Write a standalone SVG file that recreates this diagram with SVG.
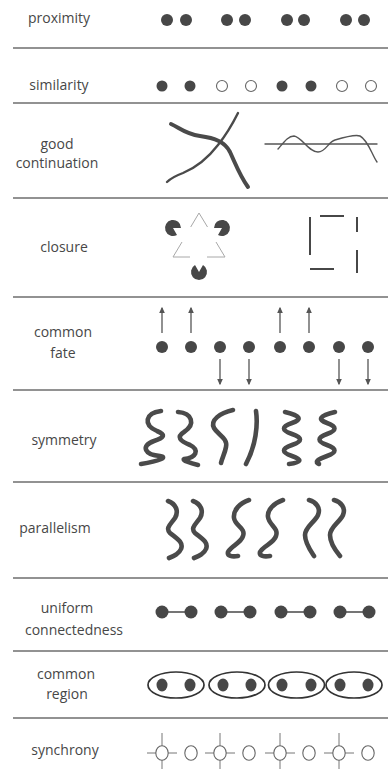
<svg xmlns="http://www.w3.org/2000/svg" width="390" height="769" viewBox="0 0 390 769">
  <style>
    .lbl { font-family: "Open Sans", "Noto Sans", sans-serif; font-size: 14px; fill: #474747; text-anchor: middle; }
    .rule { stroke: #6e6e6e; stroke-width: 1.6; }
    .dot { fill: #474747; }
    .ring { fill: #fff; stroke: #666; stroke-width: 1.1; }
    .brush { fill: none; stroke: #4a4a4a; stroke-width: 4.6; stroke-linecap: round; stroke-linejoin: round; }
    .thin { fill: none; stroke: #555; stroke-width: 1.4; stroke-linecap: round; }
    .arrow { stroke: #555; stroke-width: 1.3; marker-end: url(#head); }
    .ghost { stroke: #a8a8a8; stroke-width: 1; fill: none; }
    .bar { stroke: #474747; stroke-width: 2; }
    .tick { stroke: #777; stroke-width: 1; }
  </style>
  <defs>
    <marker id="head" viewBox="0 0 10 10" refX="8" refY="5" markerWidth="6.5" markerHeight="6.5" markerUnits="userSpaceOnUse" orient="auto">
      <path d="M0,0.5 L10,5 L0,9.5 Z" fill="#555"/>
    </marker>
  </defs>
  <rect width="390" height="769" fill="#fff"/>

  <!-- row separators -->
  <g id="separators">
    <line class="rule" x1="13" y1="48" x2="388" y2="48"/>
    <line class="rule" x1="13" y1="103" x2="388" y2="103"/>
    <line class="rule" x1="13" y1="198" x2="388" y2="198"/>
    <line class="rule" x1="13" y1="297" x2="388" y2="297"/>
    <line class="rule" x1="13" y1="390" x2="388" y2="390"/>
    <line class="rule" x1="13" y1="482" x2="388" y2="482"/>
    <line class="rule" x1="13" y1="578" x2="388" y2="578"/>
    <line class="rule" x1="13" y1="651" x2="388" y2="651"/>
    <line class="rule" x1="13" y1="718" x2="388" y2="718"/>
  </g>

  <g id="proximity">
    <text class="lbl" x="59" y="23">proximity</text>
    <circle class="dot" cx="167" cy="20" r="6"/><circle class="dot" cx="186" cy="20" r="6"/>
    <circle class="dot" cx="227" cy="20" r="6"/><circle class="dot" cx="245" cy="20" r="6"/>
    <circle class="dot" cx="287" cy="20" r="6"/><circle class="dot" cx="304" cy="20" r="6"/>
    <circle class="dot" cx="346" cy="20" r="6"/><circle class="dot" cx="364" cy="20" r="6"/>
  </g>

  <g id="similarity">
    <text class="lbl" x="59" y="90">similarity</text>
    <circle class="dot" cx="162" cy="86" r="5.5"/><circle class="dot" cx="190" cy="86" r="5.5"/>
    <circle class="ring" cx="222" cy="86" r="5.5"/><circle class="ring" cx="251" cy="86" r="5.5"/>
    <circle class="dot" cx="282" cy="86" r="5.5"/><circle class="dot" cx="311" cy="86" r="5.5"/>
    <circle class="ring" cx="342" cy="86" r="5.5"/><circle class="ring" cx="371" cy="86" r="5.5"/>
  </g>

  <g id="good-continuation">
    <text class="lbl" x="57" y="149">good</text>
    <text class="lbl" x="57" y="168">continuation</text>
    <path d="M238,113 C232,125 226,135 218,145 C208,158 195,168 183,173 C175,176 170,179 167,182" fill="none" stroke="#4a4a4a" stroke-width="2.4" stroke-linecap="round"/>
    <path d="M171,124 C180,128 185,134 200,136 C215,138 225,142 230,152 C236,165 240,176 248,187" fill="none" stroke="#4a4a4a" stroke-width="4" stroke-linecap="round"/>
    <line class="thin" x1="265" y1="144" x2="377" y2="144"/>
    <path class="thin" d="M278,149 C284,142 288,136 294,136 C302,137 308,152 318,152 C326,152 328,142 335,140 C345,137 355,134 360,136 C368,140 372,155 377,162"/>
  </g>

  <g id="closure">
    <text class="lbl" x="64" y="252">closure</text>
    <!-- outlined triangle, broken by the pac-man discs -->
    <path class="ghost" d="M190.7,227 L199,213 L207.5,227 M182,242 L173,257 L190,257 M207,257 L225,257 L216,242"/>
    <path class="dot" d="M173,228 L181,228 A8,8 0 1,0 177,234.93 Z"/>
    <path class="dot" d="M222,228 L214,228 A8,8 0 1,1 218,234.93 Z"/>
    <path class="dot" d="M199,272 L203,265.07 A8,8 0 1,1 195,265.07 Z"/>
    <!-- open square -->
    <line class="bar" x1="310" y1="217" x2="310" y2="255"/>
    <line class="bar" x1="320" y1="216" x2="344" y2="216"/>
    <line class="bar" x1="357" y1="217" x2="357" y2="232"/>
    <line class="bar" x1="357" y1="250" x2="357" y2="273"/>
    <line class="bar" x1="310" y1="269" x2="334" y2="269"/>
  </g>

  <g id="common-fate">
    <text class="lbl" x="63" y="337">common</text>
    <text class="lbl" x="63" y="358">fate</text>
    <circle class="dot" cx="162" cy="347" r="6"/><circle class="dot" cx="191" cy="347" r="6"/>
    <circle class="dot" cx="220" cy="347" r="6"/><circle class="dot" cx="249" cy="347" r="6"/>
    <circle class="dot" cx="280" cy="347" r="6"/><circle class="dot" cx="309" cy="347" r="6"/>
    <circle class="dot" cx="339" cy="347" r="6"/><circle class="dot" cx="368" cy="347" r="6"/>
    <line class="arrow" x1="162" y1="333" x2="162" y2="308"/>
    <line class="arrow" x1="191" y1="333" x2="191" y2="308"/>
    <line class="arrow" x1="280" y1="333" x2="280" y2="308"/>
    <line class="arrow" x1="309" y1="333" x2="309" y2="308"/>
    <line class="arrow" x1="220" y1="359" x2="220" y2="384"/>
    <line class="arrow" x1="249" y1="359" x2="249" y2="384"/>
    <line class="arrow" x1="339" y1="359" x2="339" y2="384"/>
    <line class="arrow" x1="368" y1="359" x2="368" y2="384"/>
  </g>

  <g id="symmetry">
    <text class="lbl" x="64" y="445">symmetry</text>
    <path class="brush" d="M161,411 C145,413 143,425 157,431 C167,435 163,438 154,441 C140,446 145,455 160,456 C168,457 160,461 141,464"/>
    <path class="brush" d="M178,412 C192,413 196,424 184,432 C176,437 180,441 190,445 C200,450 196,458 184,459 C182,460 190,463 198,465"/>
    <path class="brush" d="M233,410 C220,413 210,420 214,428 C218,435 228,438 226,447 C225,453 222,458 221,463"/>
    <path class="brush" d="M256,411 C258,425 256,445 246,464"/>
    <path class="brush" d="M285,412 Q308,417.5 292,423 T292,434 T292,445 T292,456 T289,464"/>
    <path class="brush" d="M335,412 Q312,417.5 327,423 T327,434 T327,445 T327,456 T319,464"/>
  </g>

  <g id="parallelism">
    <text class="lbl" x="55" y="533">parallelism</text>
    <path class="brush" d="M168,501 C176,504 179,511 175,518 C171,524 165,528 170,533 C176,538 184,542 181,549 C179,554 174,556 169,558"/>
    <path class="brush" d="M193,501 C201,504 204,511 200,518 C196,524 190,528 195,533 C201,538 209,542 206,549 C204,554 199,556 194,558"/>
    <path class="brush" d="M249,500 C240,503 233,510 234,518 C235,526 246,528 243,536 C241,543 231,546 228,552 C227,556 232,557 238,556"/>
    <path class="brush" d="M283,500 C274,503 267,510 268,517 C269,525 279,528 276,536 C274,543 263,546 260,552 C259,556 264,557 270,556"/>
    <path class="brush" d="M309,500 C316,502 321,508 318,515 C315,522 305,527 305,535 C305,543 310,550 314,556"/>
    <path class="brush" d="M334,500 C341,502 346,508 343,515 C340,522 330,527 330,535 C330,543 335,550 340,556"/>
  </g>

  <g id="uniform-connectedness">
    <text class="lbl" x="67" y="613">uniform</text>
    <text class="lbl" x="74" y="635">connectedness</text>
    <g stroke="#474747" stroke-width="1.5">
      <line x1="162" y1="612" x2="191" y2="612"/>
      <line x1="221" y1="612" x2="250" y2="612"/>
      <line x1="281" y1="612" x2="310" y2="612"/>
      <line x1="340" y1="612" x2="369" y2="612"/>
    </g>
    <circle class="dot" cx="162" cy="612" r="6.5"/><circle class="dot" cx="191" cy="612" r="6.5"/>
    <circle class="dot" cx="221" cy="612" r="6.5"/><circle class="dot" cx="250" cy="612" r="6.5"/>
    <circle class="dot" cx="281" cy="612" r="6.5"/><circle class="dot" cx="310" cy="612" r="6.5"/>
    <circle class="dot" cx="340" cy="612" r="6.5"/><circle class="dot" cx="369" cy="612" r="6.5"/>
  </g>

  <g id="common-region">
    <text class="lbl" x="66" y="679">common</text>
    <text class="lbl" x="67" y="699">region</text>
    <g fill="none" stroke="#333" stroke-width="1.7">
      <ellipse cx="176" cy="685" rx="28" ry="13"/>
      <ellipse cx="237" cy="685" rx="28" ry="13"/>
      <ellipse cx="296.5" cy="685" rx="28" ry="13"/>
      <ellipse cx="354" cy="685" rx="28" ry="13"/>
    </g>
    <ellipse class="dot" cx="162" cy="685" rx="5.5" ry="6.5"/><ellipse class="dot" cx="190" cy="685" rx="5.5" ry="6.5"/>
    <ellipse class="dot" cx="223" cy="685" rx="5.5" ry="6.5"/><ellipse class="dot" cx="251" cy="685" rx="5.5" ry="6.5"/>
    <ellipse class="dot" cx="282" cy="685" rx="5.5" ry="6.5"/><ellipse class="dot" cx="311" cy="685" rx="5.5" ry="6.5"/>
    <ellipse class="dot" cx="340" cy="685" rx="5.5" ry="6.5"/><ellipse class="dot" cx="368" cy="685" rx="5.5" ry="6.5"/>
  </g>

  <g id="synchrony">
    <text class="lbl" x="65" y="755">synchrony</text>
    <path class="tick" d="M147,753 H156 M168,753 H177 M162,733 V746 M162,760 V769"/>
    <path class="tick" d="M205,753 H214 M226,753 H235 M220,733 V746 M220,760 V769"/>
    <path class="tick" d="M265,753 H274 M286,753 H295 M280,733 V746 M280,760 V769"/>
    <path class="tick" d="M324,753 H333 M345,753 H354 M339,733 V746 M339,760 V769"/>
    <ellipse class="ring" cx="162" cy="753" rx="6.2" ry="7.2"/><ellipse class="ring" cx="191" cy="753" rx="6.2" ry="7.2"/>
    <ellipse class="ring" cx="220" cy="753" rx="6.2" ry="7.2"/><ellipse class="ring" cx="249" cy="753" rx="6.2" ry="7.2"/>
    <ellipse class="ring" cx="280" cy="753" rx="6.2" ry="7.2"/><ellipse class="ring" cx="309" cy="753" rx="6.2" ry="7.2"/>
    <ellipse class="ring" cx="339" cy="753" rx="6.2" ry="7.2"/><ellipse class="ring" cx="368" cy="753" rx="6.2" ry="7.2"/>
  </g>
</svg>
